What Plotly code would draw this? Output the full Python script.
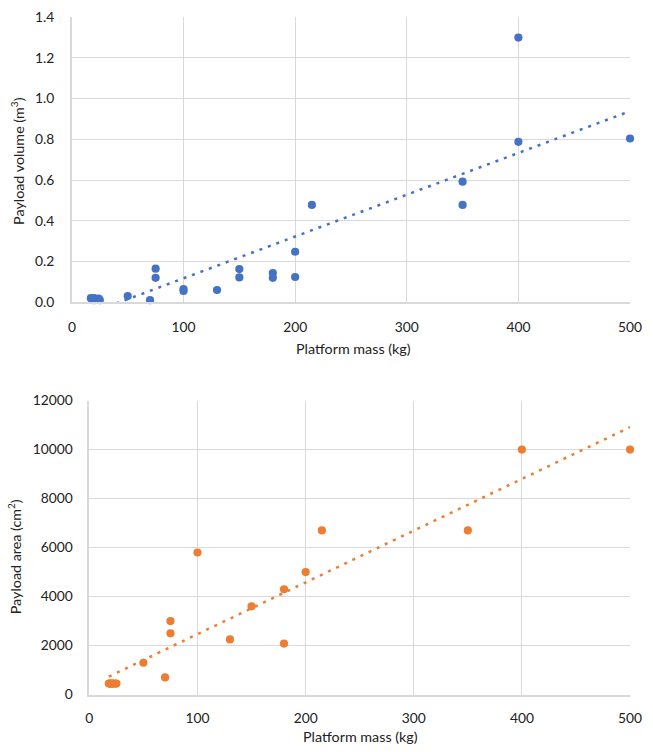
import numpy as np
import plotly.graph_objects as go

# Top chart: platform mass (kg) vs payload volume (m^3)
mass_vol = [17, 18, 20, 20, 22, 24, 25, 50, 70, 75, 75, 100, 100, 130, 150, 150,
            180, 180, 200, 200, 215, 350, 350, 400, 400, 500]
volume = [0.02, 0.015, 0.01, 0.02, 0.012, 0.018, 0.01, 0.03, 0.01, 0.165, 0.12,
          0.065, 0.055, 0.06, 0.163, 0.122, 0.143, 0.12, 0.248, 0.124, 0.478,
          0.592, 0.478, 1.30, 0.788, 0.804]

# Bottom chart: platform mass (kg) vs payload area (cm^2)
mass_area = [18, 19, 20, 21, 22, 24, 25, 50, 70, 75, 75, 100, 130, 150, 180, 180,
             200, 215, 350, 400, 500]
area = [450, 450, 450, 450, 450, 450, 450, 1300, 700, 3000, 2500, 5800, 2250, 3600,
        4300, 2080, 5000, 6700, 6700, 10000, 10000]

x_ticks = [0, 100, 200, 300, 400, 500]

BLUE = "#4472C4"
ORANGE = "#ED7D31"
GRID = "#D9D9D9"
FONT = "Lato"

W, H = 653, 752
# the photographed page comes out slightly reduced and shifted; compensate
SX, OX = 0.977, 5.0
SY, OY = 0.979, 7.8


def px(x):
    return ((x - OX) / SX) / W


def py(y):
    return 1 - ((y - OY) / SY) / H


def sz(v):
    return v / SX


fig = go.Figure()

fig.add_trace(go.Scatter(x=mass_vol, y=volume, mode="markers", cliponaxis=False,
                         marker=dict(color=BLUE, size=sz(8)), xaxis="x", yaxis="y",
                         showlegend=False))
c1 = np.polyfit(mass_vol, volume, 1)
tx1 = [min(mass_vol), max(mass_vol)]
fig.add_trace(go.Scatter(x=tx1, y=list(np.polyval(c1, tx1)), mode="lines",
                         line=dict(color=BLUE, width=2.5, dash="3px,6px"),
                         xaxis="x", yaxis="y", showlegend=False))

fig.add_trace(go.Scatter(x=mass_area, y=area, mode="markers", cliponaxis=False,
                         marker=dict(color=ORANGE, size=sz(8)), xaxis="x2", yaxis="y2",
                         showlegend=False))
c2 = np.polyfit(mass_area, area, 1)
tx2 = [min(mass_area), max(mass_area)]
fig.add_trace(go.Scatter(x=tx2, y=list(np.polyval(c2, tx2)), mode="lines",
                         line=dict(color=ORANGE, width=2.5, dash="3px,6px"),
                         xaxis="x2", yaxis="y2", showlegend=False))

axis_common = dict(showgrid=True, gridcolor=GRID, gridwidth=1.3, showline=True,
                   linecolor=GRID, linewidth=1.6, zeroline=False,
                   tickfont=dict(family=FONT, size=sz(13.5), color="#222"),
                   ticks="outside", tickcolor="rgba(0,0,0,0)",
                   ticklabeloverflow="allow")

fig.update_layout(
    width=W, height=H, margin=dict(l=0, r=0, t=0, b=0),
    paper_bgcolor="white", plot_bgcolor="white",
    xaxis=dict(domain=[px(73), px(632)], range=[0, 500], tickvals=x_ticks,
               anchor="y", ticklen=11, **axis_common),
    yaxis=dict(domain=[py(301.5), py(16)], range=[0, 1.4], dtick=0.2,
               tickformat=".1f", anchor="x", ticklen=13, **axis_common),
    xaxis2=dict(domain=[px(90.5), px(632)], range=[0, 500], tickvals=x_ticks,
                anchor="y2", ticklen=10, **axis_common),
    yaxis2=dict(domain=[py(694.5), py(400)], range=[0, 12000], dtick=2000,
                tickformat="d", anchor="x2", ticklen=12, **axis_common),
)

title_font = dict(family=FONT, size=sz(14), color="#222")
ann = [
    dict(text="Platform mass (kg)", x=px(355), y=py(348)),
    dict(text="Platform mass (kg)", x=px(362), y=py(736)),
    dict(text="Payload volume (m<sup>3</sup>)", x=px(19), y=py(160), textangle=-90),
    dict(text="Payload area (cm<sup>2</sup>)", x=px(15), y=py(556), textangle=-90),
]
for a in ann:
    fig.add_annotation(xref="paper", yref="paper", showarrow=False,
                       xanchor="center", yanchor="middle", font=title_font, **a)

fig.write_html("out.html")
